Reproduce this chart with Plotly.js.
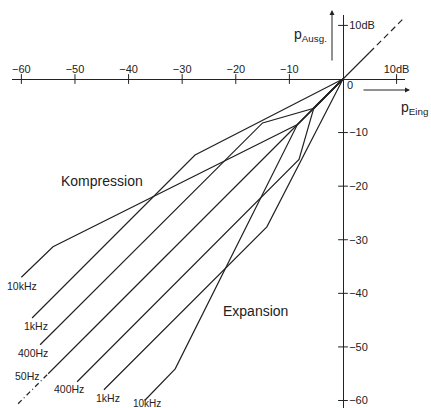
<!DOCTYPE html>
<html><head><meta charset="utf-8">
<script src="https://cdn.plot.ly/plotly-3.0.1.min.js"></script>
<style>html,body{margin:0;padding:0;background:#fff}#chart{width:431px;height:408px}</style>
</head><body><div id="chart"></div>
<script>
// ---- data (dB) ----
const comp10kX = [-60, -54.1, -8.5, 0];
const comp10kY = [-37, -31.3, -8.5, 0];
const comp1kX  = [-58, -27.6, 0];
const comp1kY  = [-44.6, -14.2, 0];
const comp400X = [-56.5, -15, -5.6, 0];
const comp400Y = [-49.6, -8.2, -5.5, 0];
const lin50X   = [-55, 5];
const lin50Y   = [-55, 5];
const lin50LoX = [-60.6, -55];
const lin50LoY = [-60.6, -55];
const lin50HiX = [5, 11.5];
const lin50HiY = [5, 11.5];
const exp400X  = [-49.6, -8.2, -5.5, 0];
const exp400Y  = [-56.5, -15, -5.6, 0];
const exp1kX   = [-44.6, -14.2, 0];
const exp1kY   = [-58, -27.6, 0];
const exp10kX  = [-37, -31.3, -8.5, 0];
const exp10kY  = [-60, -54.1, -8.5, 0];
const xTickVals = [-60, -50, -40, -30, -20, -10, 10];
const xTickText = ['\u221260', '\u221250', '\u221240', '\u221230', '\u221220', '\u221210', '10dB'];
const yTickVals = [10, -10, -20, -30, -40, -50, -60];
const yTickText = ['10dB', '\u221210', '\u221220', '\u221230', '\u221240', '\u221250', '\u221260'];

const INK = '#222';
const FONT = 'Liberation Sans, Arial, Helvetica, sans-serif';
function ln(x, y, dash) {
  return {x: x, y: y, type: 'scatter', mode: 'lines', hoverinfo: 'skip',
          line: {color: INK, width: 1.2, dash: dash || 'solid'}};
}
const traces = [
  ln(comp10kX, comp10kY), ln(comp1kX, comp1kY), ln(comp400X, comp400Y),
  ln(lin50X, lin50Y), ln(lin50LoX, lin50LoY, '5px,3px,1px,3px'), ln(lin50HiX, lin50HiY, '6px,4px'),
  ln(exp400X, exp400Y), ln(exp1kX, exp1kY), ln(exp10kX, exp10kY),
  {x: xTickVals, y: xTickVals.map(() => 0), type: 'scatter', mode: 'markers', hoverinfo: 'skip',
   marker: {symbol: 'line-ns', size: 7, line: {color: INK, width: 1}}},
  {x: yTickVals.map(() => 0), y: yTickVals, type: 'scatter', mode: 'markers', hoverinfo: 'skip',
   marker: {symbol: 'line-ew', size: 7, line: {color: INK, width: 1}}}
];

function lab(text, x, y, size) {
  return {text: text, x: x, y: y, xref: 'x', yref: 'y', showarrow: false,
          font: {family: FONT, size: size || 10.5, color: INK}};
}
function arrow(x0, y0, x1, y1) {
  return {text: '', x: x1, y: y1, ax: x0, ay: y0, xref: 'paper', yref: 'paper', axref: 'paper', ayref: 'paper',
          showarrow: true, arrowhead: 2, arrowsize: 1, arrowwidth: 1, arrowcolor: INK};
}

const layout = {
  width: 431, height: 408,
  margin: {l: 0, r: 0, t: 0, b: 0},
  paper_bgcolor: '#fff', plot_bgcolor: '#fff',
  showlegend: false,
  xaxis: {domain: [0.0278, 0.9397], range: [-61.75, 11.57], anchor: 'free', position: 0.8064,
          side: 'top', showgrid: false, zeroline: false, showline: true, linecolor: INK, linewidth: 1,
          ticks: '', tickvals: xTickVals, ticktext: xTickText, ticklabelstandoff: 2,
          tickfont: {family: FONT, size: 11, color: INK}},
  yaxis: {domain: [0, 0.9632], range: [-61.4, 11.94], anchor: 'free', position: 0.7958,
          side: 'right', showgrid: false, zeroline: false, showline: true, linecolor: INK, linewidth: 1,
          ticks: '', tickvals: yTickVals, ticktext: yTickText, ticklabelstandoff: 3,
          tickfont: {family: FONT, size: 11, color: INK}},
  annotations: [
    lab('Kompression', -45.0, -19.0, 14),
    lab('Expansion', -16.4, -43.3, 14),
    lab('10kHz', -59.9, -38.6), lab('1kHz', -57.3, -46.1), lab('400Hz', -57.8, -51.1),
    lab('50Hz', -58.8, -55.4), lab('400Hz', -51.1, -57.8), lab('1kHz', -43.8, -59.5),
    lab('10kHz', -36.6, -60.5, 10),
    lab('0', 1.4, -1.1, 11),
    {text: 'p<sub>Ausg.</sub>', x: 292 / 431, y: (408 - 24) / 408, xref: 'paper', yref: 'paper',
     xanchor: 'left', showarrow: false, font: {family: FONT, size: 14, color: INK}},
    {text: 'p<sub>Eing</sub>', x: 399 / 431, y: (408 - 97) / 408, xref: 'paper', yref: 'paper',
     xanchor: 'left', showarrow: false, font: {family: FONT, size: 14, color: INK}},
    arrow(332 / 431, (408 - 62) / 408, 332 / 431, (408 - 10) / 408),
    arrow(362 / 431, (408 - 90) / 408, 410 / 431, (408 - 90) / 408)
  ]
};
Plotly.newPlot('chart', traces, layout, {staticPlot: true, displayModeBar: false});
</script></body></html>
